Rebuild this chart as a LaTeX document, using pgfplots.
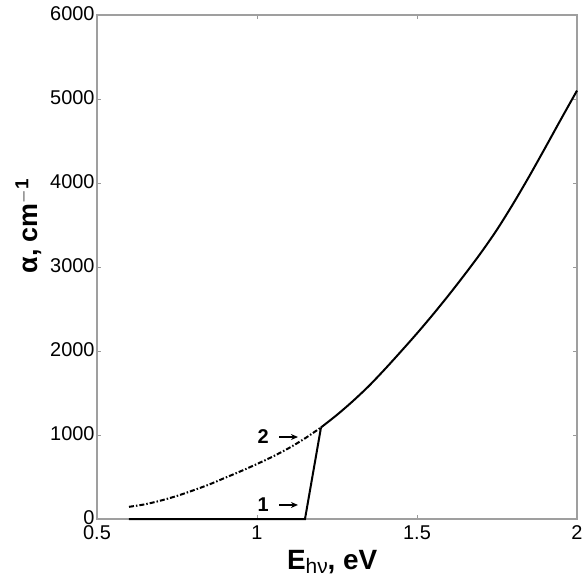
\documentclass[border=0pt]{standalone}
\usepackage{pgfplots}
\pgfplotsset{compat=1.18}
\usepackage{fontspec}
\setmainfont{Liberation Sans}
\usetikzlibrary{arrows.meta}
\begin{document}
\begin{tikzpicture}
\begin{axis}[
  width=480bp, height=504bp, scale only axis,
  xmin=0.5, xmax=2, ymin=0, ymax=6000,
  xtick={0.5,1,1.5,2}, ytick={0,1000,2000,3000,4000,5000,6000},
  scaled ticks=false,
  /pgf/number format/assume math mode=true,
  /pgf/number format/1000 sep={},
  tick align=inside, major tick length=4bp,
  axis line style={draw=gray!75, line width=1.4bp},
  every tick/.style={draw=gray!80, line width=1bp},
  tick label style={font=\fontsize{20}{20}\selectfont, inner sep=0.5bp},
  yticklabel style={xshift=-1.8bp, yshift=1bp},
  xticklabel style={yshift=-6bp},
  xlabel={\fontsize{28}{28}\selectfont\bfseries E\raisebox{-4bp}{\fontsize{21}{21}\selectfont\mdseries hν}, eV},
  xlabel style={at={(axis description cs:0.49,-0.085)}, anchor=center},
  ylabel={\fontsize{27}{27}\selectfont\bfseries α, cm$^{\mathbf{-1}}$},
  ylabel style={at={(axis description cs:-0.143,0.581)}, anchor=center, rotate=0},
  clip=false,
]
% curve 2, dash-dot part
\addplot[black, line width=2bp, smooth, dash pattern=on 5bp off 2bp on 1.5bp off 2bp] coordinates {
(0.60,145) (0.65,175) (0.70,220) (0.75,275) (0.80,340) (0.85,410)
(0.90,490) (0.95,570) (1.00,655) (1.05,745) (1.10,845) (1.15,960) (1.20,1090)
};
% curve 2, solid part
\addplot[black, line width=2bp, smooth] coordinates {
(1.20,1090) (1.25,1240) (1.30,1405) (1.35,1585) (1.40,1785) (1.45,1995)
(1.50,2210) (1.55,2435) (1.60,2670) (1.65,2915) (1.70,3170) (1.75,3445)
(1.80,3750) (1.85,4075) (1.90,4415) (1.95,4760) (2.00,5100)
};
% curve 1
\addplot[black, line width=2bp] coordinates {
(0.60,0) (1.15,0) (1.20,1090)
};
\node[font=\fontsize{20}{20}\selectfont\bfseries] at (axis cs:1.019,976) {2};
\draw[-{Stealth[length=7bp,width=6bp]}, line width=1.2bp] (axis cs:1.070,976) -- (axis cs:1.128,976);
\node[font=\fontsize{20}{20}\selectfont\bfseries] at (axis cs:1.019,167) {1};
\draw[-{Stealth[length=7bp,width=6bp]}, line width=1.2bp] (axis cs:1.070,167) -- (axis cs:1.128,167);
\end{axis}
\path ([shift={(-97bp,-63bp)}]current axis.south west) rectangle ([shift={(487bp,519bp)}]current axis.south west);
\end{tikzpicture}
\end{document}
